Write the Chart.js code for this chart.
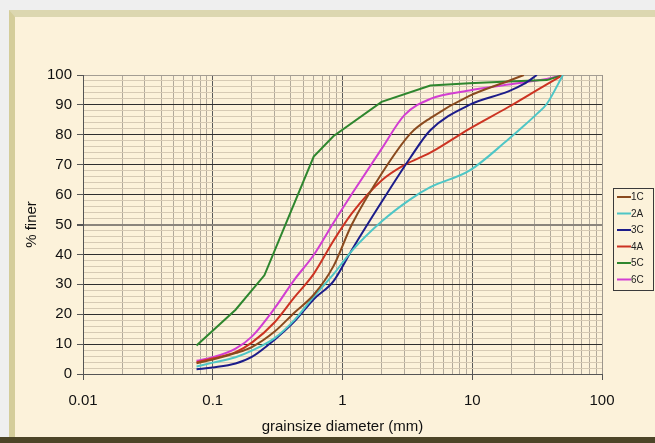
<!DOCTYPE html>
<html><head><meta charset="utf-8">
<script src="https://cdn.jsdelivr.net/npm/chart.js@4.4.1/dist/chart.umd.min.js"></script>
<style>
html,body{margin:0;padding:0;width:655px;height:443px;overflow:hidden;background:#efefef;}
#frame{position:absolute;left:9px;top:10px;width:646px;height:427px;background:#fcf2da;border-left:6px solid #d4cd9a;border-top:7px solid #dcd7b0;box-sizing:border-box;}
#bottom{position:absolute;left:0;top:437px;width:655px;height:6px;background:#4d4527;}
canvas{position:absolute;left:0;top:0;}
</style></head><body>
<div id="frame"></div><div id="bottom"></div>
<canvas id="c" width="655" height="443" style="width:655px;height:443px"></canvas>
<script>
// ---- data ----
const seriesNames = ['1C', '2A', '3C', '4A', '5C', '6C'];
const seriesColors = ['#8a4a1e', '#4ec6c6', '#1c1c8a', '#cc3322', '#2e862e', '#d23ed2'];
const smoothSeries = [true, true, true, true, false, true];

const sizes1C = [0.075, 0.1, 0.15, 0.2, 0.3, 0.425, 0.6, 0.85, 1.18, 2, 3.35, 4.75, 9.5, 19, 25];
const finer1C = [3.6, 4.8, 7, 9, 14.2, 20.5, 26.5, 36, 50, 67, 80.5, 85.6, 93, 98, 100];

const sizes2A = [0.075, 0.1, 0.15, 0.2, 0.3, 0.425, 0.6, 0.85, 1.18, 2, 3.35, 4.75, 9.5, 19, 25, 31.5, 37.5, 50];
const finer2A = [2.5, 3.8, 5.6, 7.8, 12, 18, 25.9, 33.3, 41.2, 51, 58.5, 62.5, 68, 78.5, 83, 87, 90.3, 100];

const sizes3C = [0.075, 0.1, 0.15, 0.2, 0.3, 0.425, 0.6, 0.85, 1.18, 2, 3.35, 4.75, 9.5, 19, 25, 31.5];
const finer3C = [1.6, 2.2, 3.5, 5.7, 11.5, 17.5, 25, 31, 41.5, 57.5, 72.5, 81.5, 90, 94.5, 97, 100];

const sizes4A = [0.075, 0.1, 0.15, 0.2, 0.3, 0.425, 0.6, 0.85, 1.18, 2, 3, 4.75, 9.5, 19, 37.5, 50];
const finer4A = [3.9, 5.2, 7.3, 10.5, 17.3, 25.6, 33.5, 44.5, 53.7, 64.7, 69.9, 74, 82, 89.3, 96.9, 100];

const sizes5C = [0.075, 0.15, 0.25, 0.6, 0.85, 2, 4.75, 9.5, 19, 37.5, 50];
const finer5C = [9.5, 21.5, 33, 72.7, 79.5, 91, 96.5, 97.2, 97.8, 98.3, 100];

const sizes6C = [0.075, 0.1, 0.15, 0.2, 0.3, 0.425, 0.6, 0.85, 1.18, 2, 3, 4.75, 9.5, 19, 37.5, 50];
const finer6C = [4.4, 5.6, 8.5, 12.5, 22, 31.5, 39.8, 50.5, 60.2, 75.3, 86.6, 92, 94.8, 96.8, 98.7, 100];

const xDecades = [0.01, 0.1, 1, 10, 100];
const xTickLabels = ['0.01', '0.1', '1', '10', '100'];
const yTickLabels = ['0', '10', '20', '30', '40', '50', '60', '70', '80', '90', '100'];

const allSizes = [sizes1C, sizes2A, sizes3C, sizes4A, sizes5C, sizes6C];
const allFiner = [finer1C, finer2A, finer3C, finer4A, finer5C, finer6C];

// ---- chart ----
const FONT = '"Liberation Sans", Arial, sans-serif';
const isDecade = v => Math.abs(Math.log10(v) - Math.round(Math.log10(v))) < 1e-6;

const datasets = seriesNames.map((name, i) => ({
  label: name,
  data: allSizes[i].map((s, j) => ({ x: s, y: allFiner[i][j] })),
  borderColor: seriesColors[i],
  backgroundColor: seriesColors[i],
  borderWidth: 2,
  pointRadius: 0,
  tension: 0,
  cubicInterpolationMode: smoothSeries[i] ? 'monotone' : 'default',
  fill: false
}));

const legendPlugin = {
  id: 'boxLegend',
  afterDraw(chart) {
    const ctx = chart.ctx;
    ctx.save();
    ctx.fillStyle = '#fcf2da';
    ctx.fillRect(613, 188, 41, 103);
    ctx.strokeStyle = '#3a3a3a';
    ctx.lineWidth = 1;
    ctx.strokeRect(613.5, 188.5, 40, 102);
    ctx.font = '10px ' + FONT;
    ctx.textBaseline = 'middle';
    ctx.textAlign = 'left';
    chart.data.datasets.forEach((ds, i) => {
      const y = 197 + i * 16.5;
      ctx.strokeStyle = ds.borderColor;
      ctx.lineWidth = 2;
      ctx.beginPath();
      ctx.moveTo(617, y);
      ctx.lineTo(631, y);
      ctx.stroke();
      ctx.fillStyle = '#222';
      ctx.fillText(ds.label, 631, y + 0.5);
    });
    ctx.restore();
  }
};

new Chart(document.getElementById('c'), {
  type: 'line',
  data: { datasets },
  plugins: [legendPlugin],
  options: {
    responsive: false,
    animation: false,
    devicePixelRatio: 1,
    layout: { padding: { left: 0, top: 75, right: 53, bottom: 6 } },
    plugins: { legend: { display: false }, tooltip: { enabled: false } },
    scales: {
      x: {
        type: 'logarithmic',
        min: 0.01,
        max: 100,
        afterFit(scale) { scale.height = 63; },
        afterBuildTicks(scale) {
          const t = [];
          for (let d = 0; d < xDecades.length - 1; d++) {
            for (let k = 1; k <= 9; k++) t.push({ value: +(xDecades[d] * k).toPrecision(6) });
          }
          t.push({ value: xDecades[xDecades.length - 1] });
          scale.ticks = t;
        },
        ticks: {
          autoSkip: false, maxRotation: 0, minRotation: 0, padding: 12,
          color: '#111', font: { family: FONT, size: 15 },
          callback(v) {
            const idx = xDecades.findIndex(d => Math.abs(d - v) / d < 1e-6);
            return idx >= 0 ? xTickLabels[idx] : '';
          }
        },
        grid: {
          color(ctx) {
            const v = ctx.tick && ctx.tick.value;
            if (v === undefined) return '#b0a898';
            if (v >= 99.9) return '#9c968c';
            return isDecade(v) ? '#5a5a5a' : '#b1a99b';
          },
          lineWidth: 1,
          tickLength: 6,
          tickColor(ctx) {
            const v = ctx.tick && ctx.tick.value;
            return v !== undefined && isDecade(v) ? '#555' : 'rgba(0,0,0,0)';
          }
        },
        border: { display: true, color: '#555', width: 1 },
        title: {
          display: true, text: 'grainsize diameter (mm)', color: '#111',
          font: { family: FONT, size: 15 }, padding: { top: 0, bottom: 1 }
        }
      },
      y: {
        type: 'linear',
        min: 0,
        max: 100,
        afterFit(scale) { scale.width = 83; },
        ticks: {
          stepSize: 2, autoSkip: false, padding: 5,
          color: '#111', font: { family: FONT, size: 15 },
          callback(v) {
            return v % 10 === 0 ? yTickLabels[v / 10] : '';
          }
        },
        grid: {
          color(ctx) {
            const v = ctx.tick && ctx.tick.value;
            if (v === undefined) return '#d2c6b0';
            if (v === 100) return '#a39d93';
            if (v === 50) return '#8b857c';
            return v % 10 === 0 ? '#2e2e2e' : '#d6cab4';
          },
          lineWidth(ctx) {
            const v = ctx.tick && ctx.tick.value;
            return v === 50 ? 2 : 1;
          },
          tickLength: 6,
          tickColor(ctx) {
            const v = ctx.tick && ctx.tick.value;
            return v !== undefined && v % 10 === 0 ? '#555' : 'rgba(0,0,0,0)';
          }
        },
        border: { display: true, color: '#555', width: 1 },
        title: {
          display: true, text: '% finer', color: '#111',
          font: { family: FONT, size: 15 }, padding: { top: 23, bottom: 0 }
        }
      }
    }
  }
});
</script>
</body></html>
